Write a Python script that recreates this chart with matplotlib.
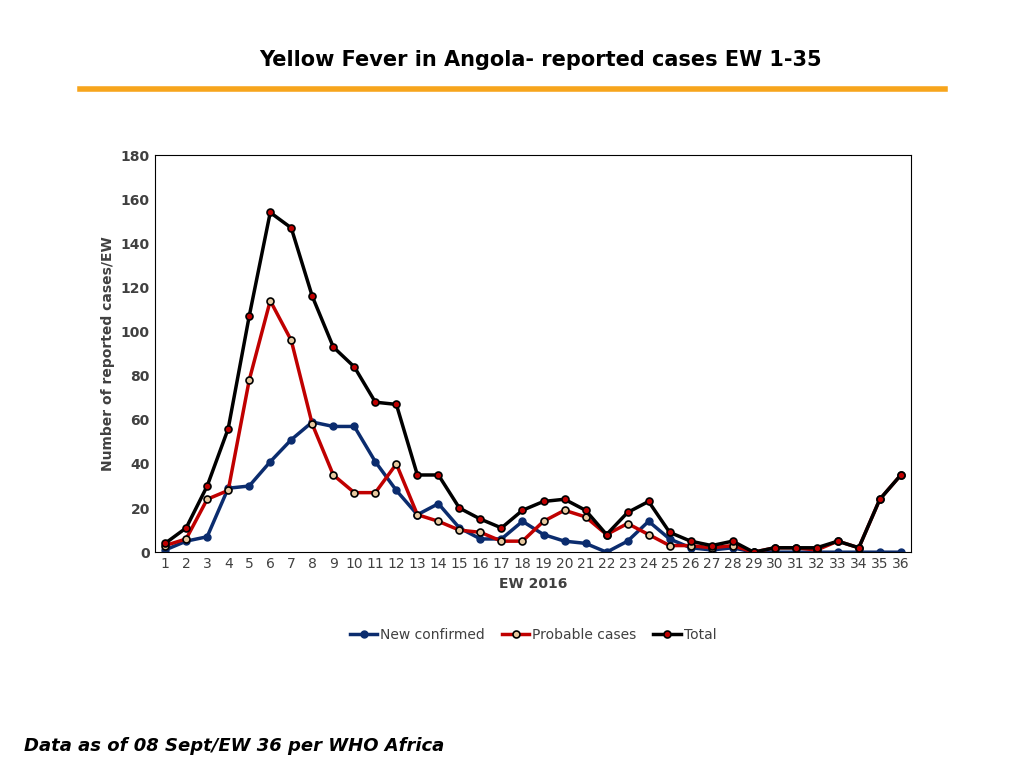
import matplotlib
matplotlib.use("Agg")
import matplotlib.pyplot as plt
from matplotlib.lines import Line2D

# Данные (EW 1-36)
weeks = list(range(1, 37))
new_confirmed = [1, 5, 7, 29, 30, 41, 51, 59, 57, 57, 41, 28, 17, 22, 11, 6, 6, 14, 8, 5,
                 4, 0, 5, 14, 6, 2, 1, 2, 0, 0, 0, 0, 0, 0, 0, 0]
probable = [3, 6, 24, 28, 78, 114, 96, 58, 35, 27, 27, 40, 17, 14, 10, 9, 5, 5, 14, 19,
            16, 8, 13, 8, 3, 3, 2, 3, 0, 2, 2, 1, 5, 2, 24, 35]
total = [4, 11, 30, 56, 107, 154, 147, 116, 93, 84, 68, 67, 35, 35, 20, 15, 11, 19, 23, 24,
         19, 8, 18, 23, 9, 5, 3, 5, 0, 2, 2, 2, 5, 2, 24, 35]

fig = plt.figure(figsize=(10.24, 7.68), dpi=100)
ax = fig.add_axes([0.151, 0.281, 0.739, 0.517])

ax.plot(weeks, new_confirmed, color="#0b2c6e", lw=2.5, marker="o", ms=5,
        mfc="#0b2c6e", mec="#0b2c6e", label="New confirmed")
ax.plot(weeks, probable, color="#c00000", lw=2.5, marker="o", ms=5,
        mfc="#e8c9a0", mec="black", mew=1.2, label="Probable cases")
ax.plot(weeks, total, color="black", lw=2.5, marker="o", ms=5,
        mfc="#c00000", mec="black", mew=1.2, label="Total")

ax.set_xlim(0.5, 36.5)
ax.set_ylim(0, 180)
ax.set_yticks(range(0, 181, 20))
ax.set_xticks(weeks)
ax.tick_params(labelsize=10, colors="#404040", length=0)
for lbl in ax.get_yticklabels():
    lbl.set_fontweight("bold")
ax.set_xlabel("EW 2016", fontsize=10, color="#404040", fontweight="bold")
ax.set_ylabel("Number of reported cases/EW", fontsize=10, color="#404040", fontweight="bold")
for s in ax.spines.values():
    s.set_linewidth(0.8)

ax.legend(loc="upper center", bbox_to_anchor=(0.5, -0.16), ncol=3, frameon=False,
          fontsize=10, handlelength=2, columnspacing=1.2, handletextpad=0.2,
          labelcolor="#404040")

fig.text(0.528, 0.922, "Yellow Fever in Angola- reported cases EW 1-35",
         ha="center", va="center", fontsize=15, fontweight="bold")
fig.add_artist(Line2D([0.078, 0.923], [0.884, 0.884], color="#f7a51c", lw=4))
fig.text(0.023, 0.028, "Data as of 08 Sept/EW 36 per WHO Africa", fontsize=13,
         fontweight="bold", style="italic", va="center")

fig.savefig("out.png", dpi=100)
